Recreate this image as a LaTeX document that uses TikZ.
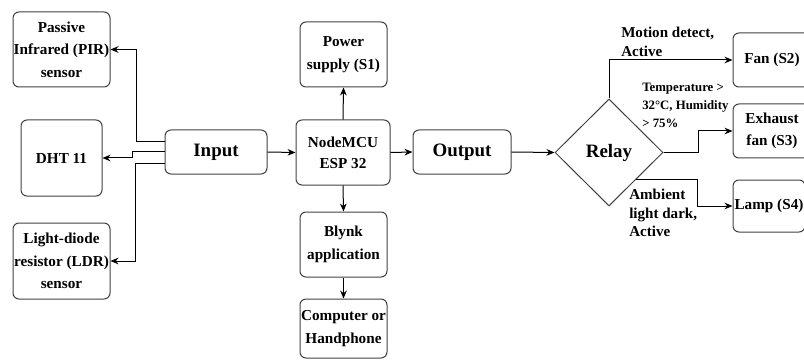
\documentclass[tikz,border=0pt]{standalone}
\usepackage{fontspec}
\setmainfont{Liberation Serif}
\usetikzlibrary{positioning}
\usetikzlibrary{shapes}
\usetikzlibrary{calc}
\usetikzlibrary{arrows.meta}

\begin{document}
\begin{tikzpicture}[x=0.75pt, y=-0.75pt,
  box/.style={draw=black!75, rounded corners=4.5pt, line width=0.75pt, align=center, inner sep=0pt, font=\fontsize{11.4}{17}\selectfont\bfseries},
  big/.style={font=\fontsize{14.2}{17}\selectfont\bfseries},
  lbl/.style={align=left, inner sep=0pt, anchor=west},
  arr/.style={-{Stealth[length=6pt, width=5pt]}, line width=0.75pt}]

\useasboundingbox (0,0) rectangle (804,360);

% sensors
\node[box, minimum width=72.75pt, minimum height=56.25pt] (pir) at (61.5, 49.5) {Passive\\Infrared (PIR)\\sensor};
\node[box, minimum width=60.75pt, minimum height=57pt] (dht) at (61.5, 158) {DHT 11};
\node[box, minimum width=72.75pt, minimum height=57pt] (ldr) at (61.5, 261) {Light-diode\\resistor (LDR)\\sensor};

% main chain
\node[box, big, minimum width=76.5pt, minimum height=33pt] (input) at (216, 152) {Input};
\node[box, minimum width=70.5pt, minimum height=48.75pt, font=\fontsize{11.4}{16}\selectfont\bfseries] (mcu) at (343, 152.5) {NodeMCU\\ESP 32};
\node[box, minimum width=65.25pt, minimum height=48.75pt] (power) at (343.5, 54.5) {Power\\supply (S1)};
\node[box, minimum width=65.25pt, minimum height=48.75pt] (blynk) at (343.5, 244.5) {Blynk\\application};
\node[box, minimum width=65.25pt, minimum height=44.25pt] (comp) at (343.5, 328.5) {Computer or\\Handphone};
\node[box, big, minimum width=73.5pt, minimum height=33pt] (output) at (462, 152) {Output};
\node[diamond, draw=black!75, line width=0.75pt, inner sep=0pt, minimum width=81pt, minimum height=80.25pt, big] (relay) at (609, 152.5) {Relay};

% loads
\node[box, minimum width=58.5pt, minimum height=40.5pt] (fan) at (772, 60) {Fan (S2)};
\node[box, minimum width=58.5pt, minimum height=40.5pt] (exhaust) at (772, 131) {Exhaust\\fan (S3)};
\node[box, minimum width=54pt, minimum height=39pt] (lamp) at (769, 206) {Lamp (S4)};

% conditions
\node[lbl, font=\fontsize{11.3}{14.5}\selectfont\bfseries] (motion) at (621, 42) {Motion detect,\\Active};
\node[lbl, font=\fontsize{9.6}{13.5}\selectfont\bfseries] (temp) at (642, 105) {Temperature >\\32°C, Humidity\\> 75\%};
\node[lbl, font=\fontsize{11.3}{14}\selectfont\bfseries] (ambient) at (629, 213) {Ambient\\light dark,\\Active};

\draw[arr] ($(input.west)+(0,-10)$) -- ++(-28,0) |- (pir.east);
\draw[arr] (input.west) -- ++(-32,0) |- (dht.east);
\draw[arr] ($(input.west)+(0,11)$) -- ++(-29,0) |- (ldr.east);

\draw[arr] (input.east) -- (mcu.west);
\draw[arr] (mcu.north) -- (power.south);
\draw[arr] (mcu.south) -- (blynk.north);
\draw[arr] (blynk.south) -- (comp.north);
\draw[arr] (mcu.east) -- (output.west);
\draw[arr] (output.east) -- (relay.west);

\draw[arr] (relay.north) |- (fan.west);
\draw[arr] (relay.east) -- ++(35,0) |- (exhaust.west);
\draw[arr] (relay.south east) -- ++(61,0) |- (lamp.west);

\end{tikzpicture}
\end{document}
